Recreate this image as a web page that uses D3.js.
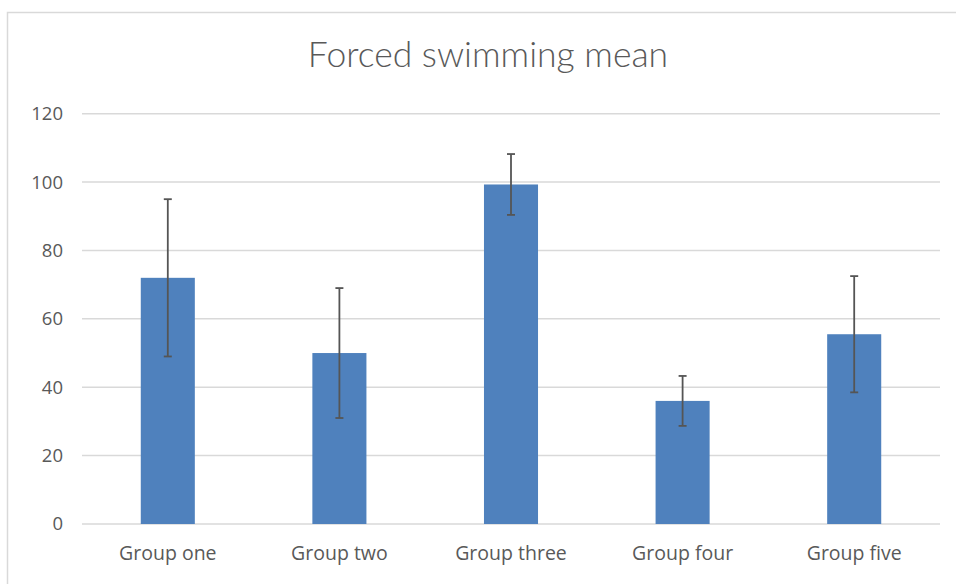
<!DOCTYPE html>
<html>
<head>
<meta charset="utf-8">
<title>Forced swimming mean</title>
<script src="https://cdn.jsdelivr.net/npm/d3@7"></script>
<style>
  body { margin: 0; background: #fff; }
  svg { display: block; }
  .tick text { fill: #595959; font-family: "Open Sans", sans-serif; }
</style>
</head>
<body>
<div id="chart"></div>
<script>
var GROUPS = ['Group one', 'Group two', 'Group three', 'Group four', 'Group five'];
var MEANS = [72, 50, 99.3, 36, 55.5];
var ERRORS = [23, 19, 8.9, 7.3, 17];
var Y_TICKS = [0, 20, 40, 60, 80, 100, 120];

var W = 956, H = 584;
var plotLeft = 82, plotRight = 940, plotTop = 113.7, plotBottom = 524;

var svg = d3.select('#chart').append('svg')
  .attr('width', W).attr('height', H);

// chart frame
svg.append('rect')
  .attr('x', 7.5).attr('y', 12.5)
  .attr('width', 980).attr('height', 620)
  .attr('fill', 'none').attr('stroke', '#d9d9d9').attr('stroke-width', 1.5);

var x = d3.scaleBand().domain(GROUPS).range([plotLeft, plotRight])
  .paddingInner(0.685).paddingOuter(0.3425);
var y = d3.scaleLinear().domain([0, 120]).range([plotBottom, plotTop]);

// gridlines
svg.append('g').selectAll('line').data(Y_TICKS).enter().append('line')
  .attr('x1', plotLeft).attr('x2', plotRight)
  .attr('y1', function (d) { return y(d); })
  .attr('y2', function (d) { return y(d); })
  .attr('stroke', '#d9d9d9').attr('stroke-width', 1.5);

// y axis labels
var yAxis = d3.axisLeft(y).tickValues(Y_TICKS).tickSize(0).tickPadding(19);
var yg = svg.append('g').attr('transform', 'translate(' + plotLeft + ',0)').call(yAxis);
yg.select('.domain').remove();
yg.selectAll('text').style('font-size', '18.5px');

// x axis labels
var xAxis = d3.axisBottom(x).tickSize(0).tickPadding(22);
var xg = svg.append('g').attr('transform', 'translate(0,' + plotBottom + ')').call(xAxis);
xg.select('.domain').remove();
xg.selectAll('text').style('font-size', '19.5px');

// bars
svg.append('g').selectAll('rect').data(GROUPS).enter().append('rect')
  .attr('x', function (d) { return x(d); })
  .attr('y', function (d, i) { return y(MEANS[i]); })
  .attr('width', x.bandwidth())
  .attr('height', function (d, i) { return y(0) - y(MEANS[i]); })
  .attr('fill', '#4f81bd');

// error bars
var eb = svg.append('g').attr('stroke', '#555').attr('stroke-width', 1.8);
GROUPS.forEach(function (g, i) {
  var cx = x(g) + x.bandwidth() / 2;
  var hi = y(MEANS[i] + ERRORS[i]), lo = y(MEANS[i] - ERRORS[i]);
  eb.append('line').attr('x1', cx).attr('x2', cx).attr('y1', hi).attr('y2', lo);
  eb.append('line').attr('x1', cx - 4).attr('x2', cx + 4).attr('y1', hi).attr('y2', hi);
  eb.append('line').attr('x1', cx - 4).attr('x2', cx + 4).attr('y1', lo).attr('y2', lo);
});

// title
svg.append('text')
  .attr('x', 488).attr('y', 67)
  .attr('text-anchor', 'middle')
  .style('font-family', 'Lato, "Open Sans", sans-serif')
  .style('font-weight', 300)
  .style('font-size', '35.5px')
  .attr('fill', '#595959')
  .text('Forced swimming mean');
</script>
</body>
</html>
